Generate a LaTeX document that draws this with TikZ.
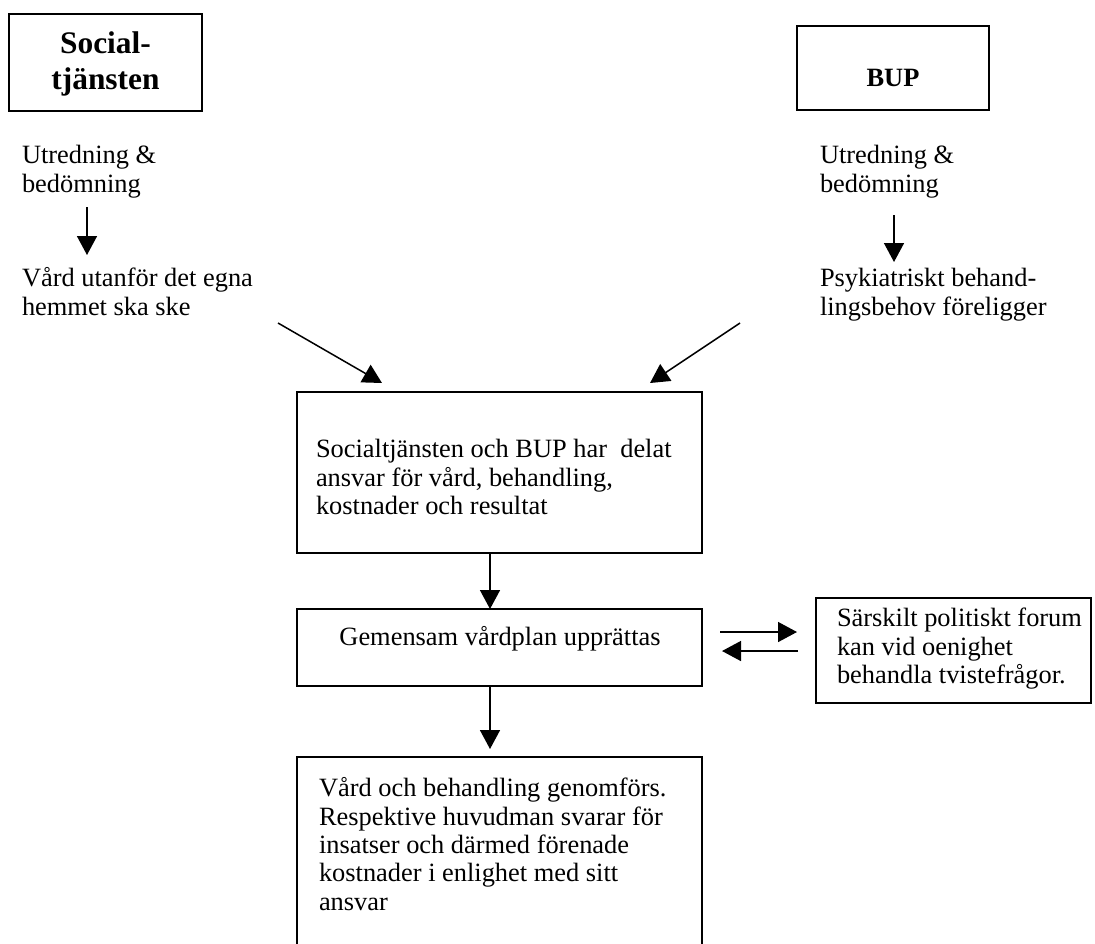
\documentclass[tikz,border=0pt]{standalone}
\usepackage{fontspec}
\setmainfont{Liberation Serif}
\usetikzlibrary{arrows.meta}
\begin{document}
\begin{tikzpicture}[x=0.5pt,y=-0.5pt,
  boxline/.style={draw=black,line width=1pt,inner sep=0pt,outer sep=0pt,anchor=north west},
  txt/.style={inner sep=0pt,outer sep=0pt,align=left,anchor=north west,font=\fontsize{13.2}{14.15}\selectfont},
  conn/.style={line width=0.75pt,-{Triangle[length=9.5pt,width=10pt]}},
]
\useasboundingbox (0,0) rectangle (1095,943);
\clip (0,0) rectangle (1095,943);

% boxes
\node[boxline,minimum width=96.5pt,minimum height=48.5pt] (soc) at (9,14) {};
\node[boxline,minimum width=96pt,minimum height=42pt] (bup) at (797,26) {};
\node[boxline,minimum width=202.5pt,minimum height=80.5pt] (shared) at (297,392) {};
\node[boxline,minimum width=202.5pt,minimum height=38.5pt] (plan) at (297,609) {};
\node[boxline,minimum width=137.5pt,minimum height=52.5pt] (forum) at (816,598) {};
\node[boxline,minimum width=202.5pt,minimum height=110pt] (impl) at (297,757) {};

% box texts
\node[inner sep=0pt,anchor=north,align=center,font=\fontsize{15.7}{17.85}\selectfont\bfseries] (soctxt) at (105.5,28) {\strut Social-\\\strut tjänsten};
\node[inner sep=0pt,anchor=base,font=\fontsize{13.2}{14.15}\selectfont\bfseries] (buptxt) at (893,86) {BUP};
\node[txt] (sharedtxt) at (316,438) {\strut Socialtjänsten och BUP har~ delat\\\strut ansvar för vård, behandling,\\\strut kostnader och resultat};
\node[txt,anchor=north,align=center] (plantxt) at (500,626) {\strut Gemensam vårdplan upprättas};
\node[txt] (forumtxt) at (837,607) {\strut Särskilt politiskt forum\\\strut kan vid oenighet\\\strut behandla tvistefrågor.};
\node[txt] (impltxt) at (319,777) {\strut Vård och behandling genomförs.\\\strut Respektive huvudman svarar för\\\strut insatser och därmed förenade\\\strut kostnader i enlighet med sitt\\\strut ansvar};

% free texts
\node[txt] (lut) at (22,144) {\strut Utredning \&\\\strut bedömning};
\node[txt] (lvard) at (22,267) {\strut Vård utanför det egna\\\strut hemmet ska ske};
\node[txt] (rut) at (820,144) {\strut Utredning \&\\\strut bedömning};
\node[txt] (rpsy) at (820,267) {\strut Psykiatriskt behand-\\\strut lingsbehov föreligger};

% connector end points
\coordinate (la1) at (87,207);
\coordinate (la2) at (87,255);
\coordinate (ra1) at (894,215);
\coordinate (ra2) at (894,262);
\coordinate (d1s) at (278,323);
\coordinate (d1e) at (382,383);
\coordinate (d2s) at (740,323);
\coordinate (d2e) at (650,383);

% connectors
\draw[conn] (la1) -- (la2);
\draw[conn] (ra1) -- (ra2);
\draw[conn] (d1s) -- (d1e);
\draw[conn] (d2s) -- (d2e);
\draw[conn] (shared.south -| 490,0) -- (plan.north -| 490,0);
\draw[conn,shorten >=4pt] (plan.south -| 490,0) -- (impl.north -| 490,0);
\draw[conn,shorten <=9pt,shorten >=9.5pt] (plan.east |- 0,632) -- (forum.west |- 0,632);
\draw[conn,shorten <=9pt,shorten >=10pt] (forum.west |- 0,651) -- (plan.east |- 0,651);
\end{tikzpicture}
\end{document}
